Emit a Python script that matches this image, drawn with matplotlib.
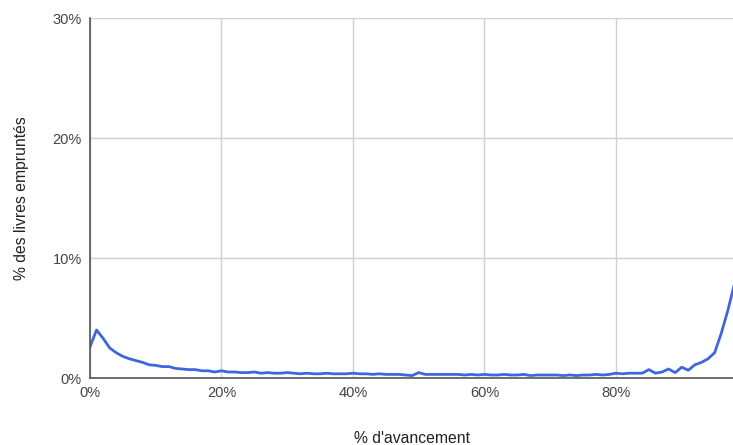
import numpy as np
import matplotlib.pyplot as plt

plt.rcParams['font.family'] = ['Liberation Sans', 'DejaVu Sans']

# progress (%) and share of borrowed books (%)
progress = list(range(0, 101))
share = [
    2.6, 4.0, 3.3, 2.5, 2.1, 1.8, 1.6, 1.45, 1.3, 1.1,
    1.05, 0.95, 0.95, 0.8, 0.75, 0.7, 0.7, 0.6, 0.6, 0.5,
    0.6, 0.5, 0.5, 0.45, 0.45, 0.5, 0.4, 0.45, 0.4, 0.4,
    0.45, 0.4, 0.35, 0.4, 0.35, 0.35, 0.4, 0.35, 0.35, 0.35,
    0.4, 0.35, 0.35, 0.3, 0.35, 0.3, 0.3, 0.3, 0.25, 0.2,
    0.45, 0.3, 0.3, 0.3, 0.3, 0.3, 0.3, 0.25, 0.3, 0.25,
    0.3, 0.25, 0.25, 0.3, 0.25, 0.25, 0.3, 0.2, 0.25, 0.25,
    0.25, 0.25, 0.2, 0.25, 0.2, 0.25, 0.25, 0.3, 0.25, 0.3,
    0.4, 0.35, 0.4, 0.4, 0.4, 0.7, 0.4, 0.5, 0.75, 0.45,
    0.9, 0.65, 1.1, 1.3, 1.6, 2.1, 3.7, 5.6, 7.8, 12.0,
    22.0,
]
xticks = [0, 20, 40, 60, 80]
yticks = [0, 10, 20, 30]

fig = plt.figure(figsize=(7.33, 4.45), dpi=100)
ax = fig.add_axes([90 / 733, 67 / 445, 643 / 733, 360 / 445])

ax.plot(progress, share, color='#3f67dd', lw=2, solid_joinstyle='round')

ax.set_xlim(0, 97.8)
ax.set_ylim(0, 30)
ax.set_xticks(xticks)
ax.set_xticklabels([f'{t}%' for t in xticks])
ax.set_yticks(yticks)
ax.set_yticklabels([f'{t}%' for t in yticks])
ax.grid(True, color='#d0d0d0', lw=1)
ax.set_axisbelow(True)
ax.tick_params(length=0, labelsize=10.5, colors='#444444', pad=6)
for s in ['top', 'right']:
    ax.spines[s].set_visible(False)
for s in ['left', 'bottom']:
    ax.spines[s].set_color('#555555')
    ax.spines[s].set_linewidth(1.2)

ax.set_xlabel("% d'avancement", fontsize=11.3, color='#222222', labelpad=22)
ax.set_ylabel('% des livres empruntés', fontsize=11.3, color='#222222', labelpad=17)

plt.savefig('out.png', dpi=100)
plt.close()
